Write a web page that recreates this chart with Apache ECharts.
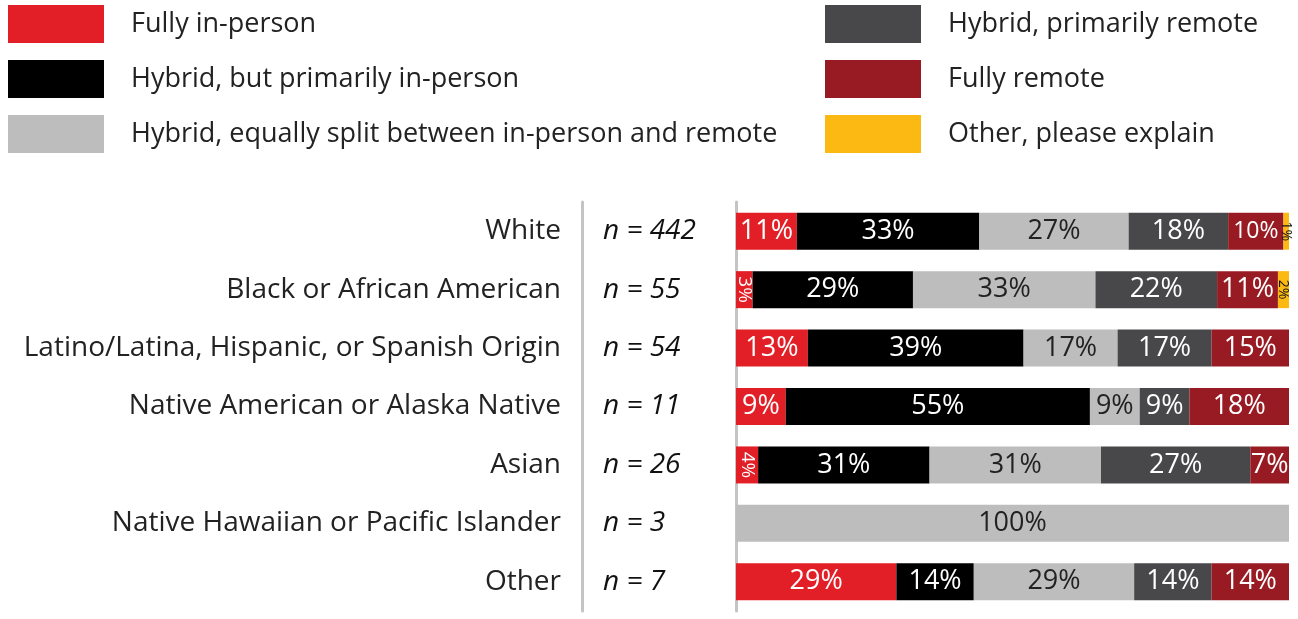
<!DOCTYPE html>
<html>
<head>
<meta charset="utf-8">
<script src="https://cdn.jsdelivr.net/npm/echarts@6/dist/echarts.min.js"></script>
<style>
  html, body { margin: 0; padding: 0; background: #fff; }
  #chart { width: 1298px; height: 619px; }
</style>
</head>
<body>
<div id="chart"></div>
<script>
// Work arrangement by race/ethnicity (percent of respondents)
const categories = [
  'White',
  'Black or African American',
  'Latino/Latina, Hispanic, or Spanish Origin',
  'Native American or Alaska Native',
  'Asian',
  'Native Hawaiian or Pacific Islander',
  'Other'
];
const sampleSizes = ['n = 442', 'n = 55', 'n = 54', 'n = 11', 'n = 26', 'n = 3', 'n = 7'];

const seriesNames = [
  'Fully in-person',
  'Hybrid, but primarily in-person',
  'Hybrid, equally split between in-person and remote',
  'Hybrid, primarily remote',
  'Fully remote',
  'Other, please explain'
];
const fullyInPerson  = [11, 3, 13, 9, 4, 0, 29];
const hybridInPerson = [33, 29, 39, 55, 31, 0, 14];
const hybridEqual    = [27, 33, 17, 9, 31, 100, 29];
const hybridRemote   = [18, 22, 17, 9, 27, 0, 14];
const fullyRemote    = [10, 11, 15, 18, 7, 0, 14];
const otherExplain   = [1, 2, 0, 0, 0, 0, 0];

const seriesValues = [fullyInPerson, hybridInPerson, hybridEqual, hybridRemote, fullyRemote, otherExplain];
const colors = ['#e21f26', '#000000', '#bdbdbd', '#48474a', '#981b24', '#fdb913'];
const labelColors = ['#fff', '#fff', '#222', '#fff', '#fff', '#111'];

const FONT = '"Open Sans", Lato, sans-serif';

// Narrow segments get rotated, smaller labels
function buildData(values, sIdx) {
  return values.map(v => {
    const item = { value: v };
    if (v > 0 && v < 5) {
      item.label = { rotate: -90, fontSize: v < 3 ? 14 : 19, color: labelColors[sIdx] };
    } else if (v === 10) {
      item.label = { fontSize: 23 };
    }
    return item;
  });
}

const series = seriesNames.map((name, i) => ({
  name: name,
  type: 'bar',
  stack: 'total',
  barWidth: 37,
  itemStyle: { color: colors[i] },
  label: {
    show: true,
    position: 'inside',
    color: labelColors[i],
    fontFamily: FONT,
    fontSize: 27,
    formatter: p => (p.value > 0 ? p.value + '%' : '')
  },
  emphasis: { disabled: true },
  data: buildData(seriesValues[i], i)
}));

const legendText = { fontSize: 27, color: '#222', fontFamily: FONT, padding: [3, 0, 0, 22] };

const chart = echarts.init(document.getElementById('chart'), null, { renderer: 'canvas' });
chart.setOption({
  animation: false,
  textStyle: { fontFamily: FONT },
  legend: [
    {
      data: seriesNames.slice(0, 3),
      orient: 'vertical',
      left: 3, top: 0,
      itemWidth: 96, itemHeight: 38, itemGap: 17,
      icon: 'rect',
      textStyle: legendText,
      selectedMode: false
    },
    {
      data: seriesNames.slice(3),
      orient: 'vertical',
      left: 820, top: 0,
      itemWidth: 96, itemHeight: 38, itemGap: 17,
      icon: 'rect',
      textStyle: legendText,
      selectedMode: false
    }
  ],
  grid: { left: 736, right: 9, top: 202, bottom: 8 },
  xAxis: { type: 'value', min: 0, max: 100, show: false },
  yAxis: [
    {
      type: 'category', data: categories, inverse: true,
      axisLine: { show: true, lineStyle: { color: '#c4c4c4', width: 3 } },
      axisTick: { show: false },
      axisLabel: { fontSize: 28, color: '#222', fontFamily: FONT, margin: 175, align: 'right', padding: [3, 0, 0, 0] }
    },
    {
      type: 'category', data: sampleSizes, inverse: true, position: 'left',
      axisLine: { show: false }, axisTick: { show: false },
      axisLabel: { fontSize: 28, color: '#111', fontStyle: 'italic', fontFamily: FONT, margin: 133, align: 'left', padding: [3, 0, 0, 0] }
    },
    {
      type: 'category', data: categories, inverse: true, position: 'left', offset: 154,
      axisLine: { show: true, lineStyle: { color: '#c4c4c4', width: 3 } },
      axisTick: { show: false }, axisLabel: { show: false }
    }
  ],
  series: series
});
</script>
</body>
</html>
